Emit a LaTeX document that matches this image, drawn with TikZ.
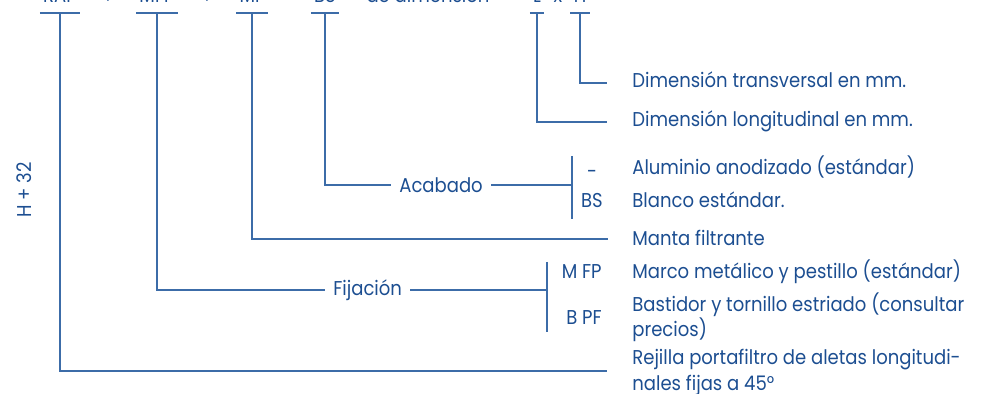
\documentclass[tikz,border=0pt]{standalone}
\usepackage{fontspec}
\setmainfont[FakeStretch=0.9]{Poppins}
\usepackage{xcolor}
\usepackage{tikz}
\usetikzlibrary{positioning, calc}
\definecolor{textblue}{RGB}{28, 78, 145}
\definecolor{lineblue}{RGB}{60, 108, 168}

\begin{document}
\begin{tikzpicture}[x=0.02cm, y=-0.02cm, text=textblue,
    font=\fontsize{11.4}{14.7}\selectfont,
    code/.style={anchor=south, inner xsep=0.06cm, inner ysep=0.2cm, text depth=0pt},
    sep/.style={anchor=base, inner sep=0pt},
    desc/.style={anchor=base west, inner sep=0pt, align=left},
    group/.style={anchor=west, inner xsep=0.16cm},
    option/.style={anchor=base east, inner sep=0pt},
    link/.style={draw=lineblue, line width=0.8pt}]

    \useasboundingbox (0,0) rectangle (989,394);

    % Reference code (top line)
    \node[code] (rap) at (60,13) {RAP};
    \node[sep] (plus1) at (108,4) {+};
    \node[code] (mfp) at (157,13) {MFP};
    \node[sep] (plus2) at (207,4) {+};
    \node[code] (mf) at (252,13) {MF};
    \node[sep] (dash) at (290,3) {--};
    \node[code] (bs) at (325,13) {BS};
    \node[sep] (dimtext) at (428,3) {de dimensión};
    \node[code] (dimL) at (537,13) {L};
    \node[sep] (times) at (558,3) {x};
    \node[code] (dimH) at (580,13) {H};
    \foreach \c in {rap, mfp, mf, bs, dimL, dimH}
        \draw[link] (\c.south west) -- (\c.south east);

    \node[rotate=90] (alto) at (24,190) {H + 32};

    % Descriptions
    \node[desc] (dtrans) at (632,88) {Dimensión transversal en mm.};
    \node[desc] (dlong) at (632,127) {Dimensión longitudinal en mm.};
    \node[desc] (alu) at (632,175) {Aluminio anodizado (estándar)};
    \node[desc] (blanco) at (632,208) {Blanco estándar.};
    \node[desc] (manta) at (632,246) {Manta filtrante};
    \node[desc] (marco) at (632,279) {Marco metálico y pestillo (estándar)};
    \node[desc] (bastidor) at (632,337) {Bastidor y tornillo estriado (consultar\\ precios)};
    \node[desc] (rejilla) at (632,390) {Rejilla portafiltro de aletas longitudi-\\ nales fijas a 45°};

    % Options
    \node[option, anchor=base] (optdash) at (592,179) {-};
    \node[option] (optbs) at (603,208) {BS};
    \node[option] (optmfp) at (602,279) {M FP};
    \node[option] (optbpf) at (602,325) {B PF};

    % Groups and brackets
    \node[group] (acabado) at (391,185) {Acabado};
    \node[group] (fijacion) at (325,290) {Fijación};
    \coordinate (acTop) at (572,156);
    \coordinate (acBot) at (572,219);
    \coordinate (fjTop) at (547,262);
    \coordinate (fjBot) at (547,332);
    \coordinate (eTrans) at (607,83);
    \coordinate (eLong) at (607,122);
    \coordinate (eManta) at (608,239);
    \coordinate (eRejilla) at (607,371);

    % Relations
    \draw[link] (dimH.south) |- (eTrans);
    \draw[link] (dimL.south) |- (eLong);
    \draw[link] (bs.south) |- (acabado.west);
    \draw[link] (acabado.east) -- (acabado.east -| acTop);
    \draw[link] (acTop) -- (acBot);
    \draw[link] (mf.south) |- (eManta);
    \draw[link] (mfp.south) |- (fijacion.west);
    \draw[link] (fijacion.east) -- (fijacion.east -| fjTop);
    \draw[link] (fjTop) -- (fjBot);
    \draw[link] (rap.south) |- (eRejilla);
\end{tikzpicture}
\end{document}
